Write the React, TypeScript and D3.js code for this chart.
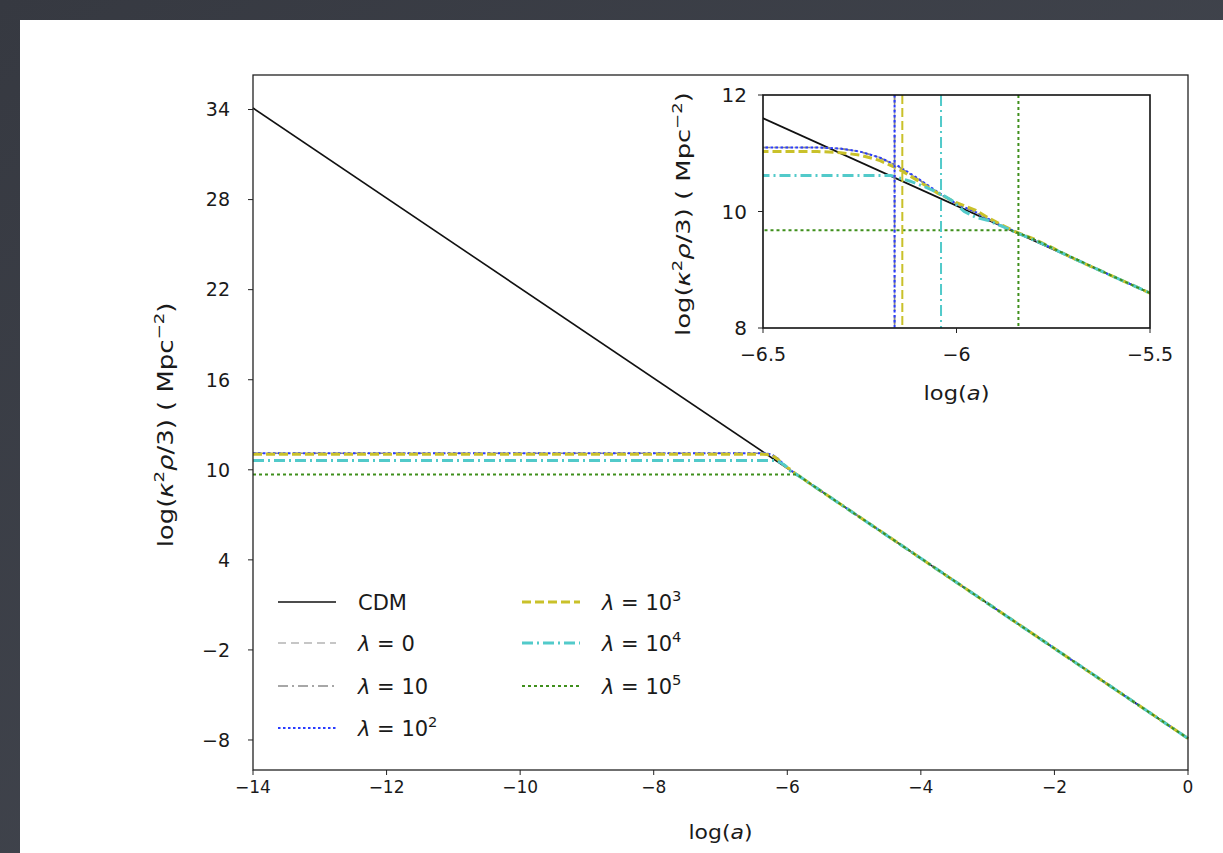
import React, { useEffect, useRef } from 'react';
import * as d3 from 'd3';

// ---- data ----
const X_TICKS = [-14, -12, -10, -8, -6, -4, -2, 0];
const Y_TICKS = [-8, -2, 4, 10, 16, 22, 28, 34];
const INSET_X_TICKS = [-6.5, -6, -5.5];
const INSET_Y_TICKS = [8, 10, 12];

const CDM = [[-14, 34.1], [0, -7.9]];

const LAMBDA_0 = [
    [-14, 11.1], [-6.36, 11.1], [-6.3, 11.08], [-6.25, 11.03], [-6.2, 10.93], [-6.15, 10.77],
    [-6.1, 10.56], [-6.05, 10.33], [-6.0, 10.13], [-5.95, 9.98], [-5.9, 9.81], [-5.85, 9.66],
    [-5.8, 9.52], [-5.75, 9.36], [-5.7, 9.2], [-5.6, 8.9], [-5.5, 8.6], [0, -7.9]
];
const LAMBDA_10 = [
    [-14, 11.1], [-6.36, 11.1], [-6.3, 11.08], [-6.25, 11.03], [-6.2, 10.93], [-6.15, 10.77],
    [-6.1, 10.56], [-6.05, 10.33], [-6.0, 10.13], [-5.95, 9.98], [-5.9, 9.81], [-5.85, 9.66],
    [-5.8, 9.52], [-5.75, 9.36], [-5.7, 9.2], [-5.6, 8.9], [-5.5, 8.6], [0, -7.9]
];
const LAMBDA_1E2 = [
    [-14, 11.1], [-6.36, 11.1], [-6.3, 11.08], [-6.25, 11.03], [-6.2, 10.93], [-6.15, 10.78],
    [-6.1, 10.57], [-6.05, 10.34], [-6.0, 10.13], [-5.95, 9.99], [-5.9, 9.81], [-5.85, 9.66],
    [-5.8, 9.52], [-5.75, 9.36], [-5.7, 9.2], [-5.6, 8.9], [-5.5, 8.6], [0, -7.9]
];
const LAMBDA_1E3 = [
    [-14, 11.03], [-6.36, 11.03], [-6.3, 11.01], [-6.25, 10.97], [-6.2, 10.88], [-6.15, 10.73],
    [-6.1, 10.53], [-6.05, 10.32], [-6.0, 10.15], [-5.95, 10.02], [-5.92, 9.9], [-5.88, 9.76],
    [-5.85, 9.66], [-5.8, 9.53], [-5.75, 9.37], [-5.7, 9.2], [-5.6, 8.9], [-5.5, 8.6], [0, -7.9]
];
const LAMBDA_1E4 = [
    [-14, 10.62], [-6.17, 10.62], [-6.12, 10.52], [-6.08, 10.42], [-6.04, 10.3], [-6.01, 10.18],
    [-5.98, 10.0], [-5.95, 9.9], [-5.92, 9.85], [-5.88, 9.74], [-5.85, 9.65], [-5.8, 9.51],
    [-5.75, 9.36], [-5.7, 9.2], [-5.6, 8.9], [-5.5, 8.6], [0, -7.9]
];
const LAMBDA_1E5 = [
    [-14, 9.68], [-5.86, 9.68], [-5.82, 9.58], [-5.78, 9.46], [-5.7, 9.21], [-5.6, 8.9],
    [-5.5, 8.6], [0, -7.9]
];

// where each lambda run leaves its plateau (vertical markers in the inset)
const TRANSITION_X = [-6.16, -6.16, -6.16, -6.14, -6.04, -5.84];

const LEGEND_BASE = ['CDM', '0', '10', '10', '10', '10', '10'];
const LEGEND_EXP = ['', '', '', '2', '3', '4', '5'];

// ---- styles ----
const STYLES = [
    { color: '#111', width: 1.6, dash: null },
    { color: '#b4b4b4', width: 1.6, dash: '8,5' },
    { color: '#8a8a8a', width: 1.6, dash: '10,4,2,4' },
    { color: '#2a3cff', width: 2, dash: '2.5,2.5' },
    { color: '#c9c12a', width: 3, dash: '9,4' },
    { color: '#52caca', width: 3, dash: '11,4,2,4' },
    { color: '#3f8f1c', width: 2, dash: '3,3' }
];

const FONT = "'DejaVu Sans', sans-serif";
const INK = '#1a1a1a';

function rich(sel, parts, size) {
    parts.forEach((p) => {
        const t = sel.append('tspan').text(p.t);
        if (p.i) t.attr('font-style', 'italic');
        if (p.sup) {
            t.attr('font-size', size * 0.7).attr('dy', -size * 0.4);
        } else if (p.after) {
            t.attr('dy', size * 0.4);
        }
    });
}

// stretch a label along its reading direction so it spans `len` px
function fitLabel(sel, cx, cy, len, rotate) {
    const natural = sel.node().getComputedTextLength() || len;
    const k = len / natural;
    sel.attr('x', 0).attr('y', 0)
        .attr('transform', `translate(${cx},${cy})${rotate ? ' rotate(-90)' : ''} scale(${k},1)`);
}

const fmt = (v) => (v < 0 ? '\u2212' : '') + String(Math.abs(v));

const Y_LABEL = [
    { t: 'log(' }, { t: 'κ', i: true }, { t: '2', sup: true }, { t: 'ρ', i: true, after: true },
    { t: '/3) ( Mpc' }, { t: '\u22122', sup: true }, { t: ')', after: true }
];
const X_LABEL = [{ t: 'log(' }, { t: 'a', i: true }, { t: ')' }];

export default function App() {
    const svgRef = useRef();

    useEffect(() => {
        const svg = d3.select(svgRef.current);
        svg.selectAll('*').remove();

        const W = 1223;
        const H = 853;

        // backdrop (dark slide + white figure)
        const defs = svg.append('defs');
        const grad = defs.append('linearGradient').attr('id', 'bg').attr('x1', 0).attr('y1', 0).attr('x2', 1).attr('y2', 1);
        grad.append('stop').attr('offset', 0).attr('stop-color', '#363941');
        grad.append('stop').attr('offset', 1).attr('stop-color', '#474b54');
        svg.append('rect').attr('width', W).attr('height', H).attr('fill', 'url(#bg)');
        svg.append('rect').attr('x', 20).attr('y', 20).attr('width', W - 20).attr('height', H - 20).attr('fill', '#fff');

        const seriesData = [CDM, LAMBDA_0, LAMBDA_10, LAMBDA_1E2, LAMBDA_1E3, LAMBDA_1E4, LAMBDA_1E5];

        // ---- main axes ----
        const m = { left: 253, right: 1188, top: 75, bottom: 770 };
        const x = d3.scaleLinear().domain([-14, 0]).range([m.left, m.right]);
        const y = d3.scaleLinear().domain([-10, 36.3]).range([m.bottom, m.top]);

        const main = svg.append('g');
        const line = d3.line().x((d) => x(d[0])).y((d) => y(d[1]));

        seriesData.forEach((pts, i) => {
            const s = STYLES[i];
            main.append('path')
                .attr('d', line(pts))
                .attr('fill', 'none')
                .attr('stroke', s.color)
                .attr('stroke-width', s.width)
                .attr('stroke-dasharray', s.dash);
        });

        main.append('rect')
            .attr('x', m.left).attr('y', m.top)
            .attr('width', m.right - m.left).attr('height', m.bottom - m.top)
            .attr('fill', 'none').attr('stroke', '#222').attr('stroke-width', 1.3);

        X_TICKS.forEach((t) => {
            main.append('line').attr('x1', x(t)).attr('x2', x(t)).attr('y1', m.bottom).attr('y2', m.bottom + 5).attr('stroke', '#222');
            main.append('text').attr('x', x(t)).attr('y', m.bottom + 23)
                .attr('text-anchor', 'middle').attr('font-family', FONT).attr('font-size', 17).attr('fill', INK)
                .text(fmt(t));
        });
        Y_TICKS.forEach((t) => {
            main.append('line').attr('x1', m.left - 5).attr('x2', m.left).attr('y1', y(t)).attr('y2', y(t)).attr('stroke', '#222');
            main.append('text').attr('x', m.left - 23).attr('y', y(t)).attr('dy', '0.36em')
                .attr('text-anchor', 'end').attr('font-family', FONT).attr('font-size', 19).attr('fill', INK)
                .text(fmt(t));
        });

        const xl = main.append('text').attr('text-anchor', 'middle').attr('dy', '0.36em')
            .attr('font-family', FONT).attr('font-size', 20).attr('fill', INK);
        rich(xl, X_LABEL, 20);
        fitLabel(xl, (m.left + m.right) / 2, 832, 64, false);

        const yl = main.append('text').attr('text-anchor', 'middle').attr('dy', '0.36em')
            .attr('font-family', FONT).attr('font-size', 21).attr('fill', INK);
        rich(yl, Y_LABEL, 21);
        fitLabel(yl, 165, 425, 245, true);

        // ---- legend ----
        const rows = [602, 643, 686, 728];
        seriesData.forEach((_, i) => {
            const col = i < 4 ? 0 : 1;
            const row = i < 4 ? i : i - 4;
            const hx = col === 0 ? 278 : 522;
            const tx = col === 0 ? 358 : 602;
            const ly = rows[row];
            const s = STYLES[i];
            main.append('line').attr('x1', hx).attr('x2', hx + 58).attr('y1', ly).attr('y2', ly)
                .attr('stroke', s.color).attr('stroke-width', s.width).attr('stroke-dasharray', s.dash);
            const lt = main.append('text').attr('x', tx).attr('y', ly).attr('dy', '0.36em')
                .attr('font-family', FONT).attr('font-size', 21).attr('fill', INK);
            if (i === 0) {
                lt.text(LEGEND_BASE[i]);
            } else {
                const parts = [{ t: 'λ', i: true }, { t: ' = ' + LEGEND_BASE[i] }];
                if (LEGEND_EXP[i]) parts.push({ t: LEGEND_EXP[i], sup: true });
                rich(lt, parts, 21);
            }
        });

        // ---- inset ----
        const n = { left: 763, right: 1150, top: 95, bottom: 328 };
        const ix = d3.scaleLinear().domain([-6.5, -5.5]).range([n.left, n.right]);
        const iy = d3.scaleLinear().domain([8, 12]).range([n.bottom, n.top]);
        const inset = svg.append('g');
        defs.append('clipPath').attr('id', 'insetClip').append('rect')
            .attr('x', n.left).attr('y', n.top).attr('width', n.right - n.left).attr('height', n.bottom - n.top);
        inset.append('rect').attr('x', n.left).attr('y', n.top)
            .attr('width', n.right - n.left).attr('height', n.bottom - n.top).attr('fill', '#fff');

        const plot = inset.append('g').attr('clip-path', 'url(#insetClip)');
        const iline = d3.line().x((d) => ix(d[0])).y((d) => iy(d[1]));
        seriesData.forEach((pts, i) => {
            const s = STYLES[i];
            plot.append('path')
                .attr('d', iline(pts))
                .attr('fill', 'none')
                .attr('stroke', s.color)
                .attr('stroke-width', i === 0 ? 1.8 : s.width)
                .attr('stroke-dasharray', s.dash);
        });
        TRANSITION_X.forEach((tx, k) => {
            const s = STYLES[k + 1];
            plot.append('line').attr('x1', ix(tx)).attr('x2', ix(tx)).attr('y1', n.top).attr('y2', n.bottom)
                .attr('stroke', s.color).attr('stroke-width', Math.min(s.width, 2)).attr('stroke-dasharray', s.dash);
        });

        inset.append('rect').attr('x', n.left).attr('y', n.top)
            .attr('width', n.right - n.left).attr('height', n.bottom - n.top)
            .attr('fill', 'none').attr('stroke', '#111').attr('stroke-width', 1.6);

        INSET_X_TICKS.forEach((t) => {
            inset.append('line').attr('x1', ix(t)).attr('x2', ix(t)).attr('y1', n.bottom).attr('y2', n.bottom + 5).attr('stroke', '#222');
            inset.append('text').attr('x', ix(t)).attr('y', n.bottom + 33)
                .attr('text-anchor', 'middle').attr('font-family', FONT).attr('font-size', 19).attr('fill', INK)
                .text(fmt(t));
        });
        INSET_Y_TICKS.forEach((t) => {
            inset.append('line').attr('x1', n.left - 5).attr('x2', n.left).attr('y1', iy(t)).attr('y2', iy(t)).attr('stroke', '#222');
            inset.append('text').attr('x', n.left - 16).attr('y', iy(t)).attr('dy', '0.36em')
                .attr('text-anchor', 'end').attr('font-family', FONT).attr('font-size', 20).attr('fill', INK)
                .text(fmt(t));
        });

        const ixl = inset.append('text').attr('text-anchor', 'middle').attr('dy', '0.36em')
            .attr('font-family', FONT).attr('font-size', 19).attr('fill', INK);
        rich(ixl, X_LABEL, 19);
        fitLabel(ixl, (n.left + n.right) / 2, 393, 66, false);

        const iyl = inset.append('text').attr('text-anchor', 'middle').attr('dy', '0.36em')
            .attr('font-family', FONT).attr('font-size', 20).attr('fill', INK);
        rich(iyl, Y_LABEL, 20);
        fitLabel(iyl, 683, 214, 244, true);
    }, []);

    return (
        <div style={{ position: 'absolute', left: 0, top: 0 }}>
            <svg ref={svgRef} width={1223} height={853} style={{ display: 'block' }} />
        </div>
    );
}
